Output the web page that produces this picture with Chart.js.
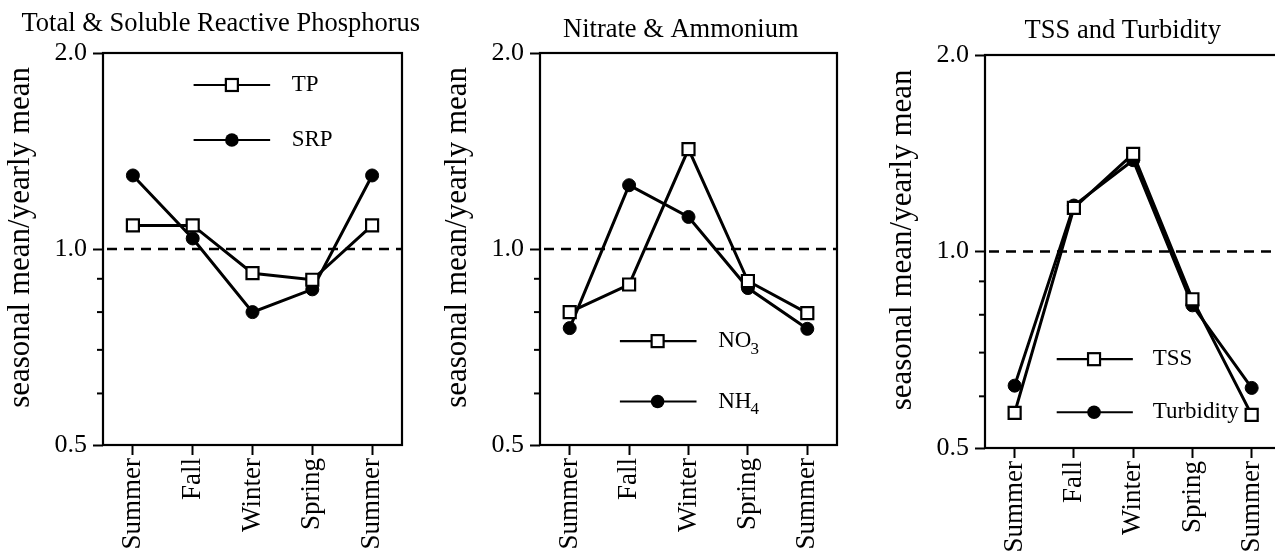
<!DOCTYPE html>
<html><head><meta charset="utf-8">
<script src="https://cdn.jsdelivr.net/npm/chart.js@4.4.1/dist/chart.umd.min.js"></script>
<style>
html,body{margin:0;padding:0;background:#fff;overflow:hidden;width:1275px;height:556px;position:relative}
canvas{position:absolute;top:0}
</style></head><body>
<canvas id="c1"></canvas><canvas id="c2"></canvas><canvas id="c3"></canvas>
<script>
// ---- data ----
const seasons = ['Summer', 'Fall', 'Winter', 'Spring', 'Summer'];
const tpValues = [1.087, 1.087, 0.918, 0.897, 1.087];
const srpValues = [1.297, 1.038, 0.800, 0.867, 1.297];
const no3Values = [0.800, 0.882, 1.424, 0.893, 0.797];
const nh4Values = [0.756, 1.253, 1.120, 0.871, 0.754];
const tssValues = [0.566, 1.166, 1.411, 0.845, 0.562];
const turbidityValues = [0.623, 1.176, 1.380, 0.827, 0.618];
const yTickValues = [0.5, 0.6, 0.7, 0.8, 0.9, 1.0, 2.0];
const yLabelValues = [0.5, 1.0, 2.0];
const referenceLevel = 1.0;
const panelTitles = ['Total & Soluble Reactive Phosphorus', 'Nitrate & Ammonium', 'TSS and Turbidity'];
const yAxisTitle = 'seasonal mean/yearly mean';

// ---- styles / layout ----
const FAMILY = '"Liberation Serif", "Times New Roman", Times, serif';
const H = 556;
const panels = [
  { id: 'c1', left: 0,   width: 430, area: { l: 103, r: 402, t: 53, b: 445 }, titleFrac: 0.394, titleBase: 31,
    series: [ { label: 'TP', sub: '', data: tpValues, style: 'rect' }, { label: 'SRP', sub: '', data: srpValues, style: 'circle' } ],
    legend: { x1: 0.303, x2: 0.559, xm: 0.431, xt: 0.631, ys: [0.0816, 0.222] } },
  { id: 'c2', left: 437, width: 445, area: { l: 540, r: 837, t: 53, b: 445 }, titleFrac: 0.474, titleBase: 37,
    series: [ { label: 'NO', sub: '3', data: no3Values, style: 'rect' }, { label: 'NH', sub: '4', data: nh4Values, style: 'circle' } ],
    legend: { x1: 0.269, x2: 0.527, xm: 0.396, xt: 0.60, ys: [0.735, 0.889] } },
  { id: 'c3', left: 882, width: 410, area: { l: 985, r: 1283, t: 55, b: 448 }, titleFrac: 0.465, titleBase: 38,
    series: [ { label: 'TSS', sub: '', data: tssValues, style: 'rect' }, { label: 'Turbidity', sub: '', data: turbidityValues, style: 'circle' } ],
    legend: { x1: 0.242, x2: 0.499, xm: 0.368, xt: 0.566, ys: [0.774, 0.909] } }
];

function pointProps(style) {
  return style === 'rect'
    ? { pointStyle: 'rect', pointRadius: 8.5, pointBackgroundColor: '#fff', pointBorderColor: '#000', pointBorderWidth: 2.2 }
    : { pointStyle: 'circle', pointRadius: 6.5, pointBackgroundColor: '#000', pointBorderColor: '#000', pointBorderWidth: 1 };
}

function drawMarker(ctx, style, x, y) {
  ctx.save();
  ctx.lineWidth = 2.2; ctx.strokeStyle = '#000';
  if (style === 'rect') {
    ctx.fillStyle = '#fff';
    ctx.fillRect(x - 6, y - 6, 12, 12);
    ctx.strokeRect(x - 6, y - 6, 12, 12);
  } else {
    ctx.fillStyle = '#000';
    ctx.beginPath(); ctx.arc(x, y, 6.8, 0, Math.PI * 2); ctx.fill();
  }
  ctx.restore();
}

function panelPlugin(p) {
  return {
    id: 'panelDecor' + p.id,
    beforeDatasetsDraw(chart) {
      const { ctx, chartArea: a, scales } = chart;
      const y1 = scales.y.getPixelForValue(referenceLevel);
      ctx.save();
      ctx.strokeStyle = '#000'; ctx.lineWidth = 2.5;
      ctx.setLineDash([10, 7]);
      ctx.beginPath(); ctx.moveTo(a.left + 4, y1); ctx.lineTo(a.right, y1); ctx.stroke();
      ctx.setLineDash([]);
      // frame
      ctx.lineWidth = 2.2;
      ctx.strokeRect(a.left, a.top, a.right - a.left, a.bottom - a.top);
      // minor ticks
      ctx.lineWidth = 2;
      yTickValues.filter(v => !yLabelValues.includes(v)).forEach(v => {
        const yy = scales.y.getPixelForValue(v);
        ctx.beginPath(); ctx.moveTo(a.left - 6, yy); ctx.lineTo(a.left, yy); ctx.stroke();
      });
      ctx.restore();
    },
    afterDraw(chart) {
      const { ctx, chartArea: a } = chart;
      const w = a.right - a.left, h = a.bottom - a.top;
      ctx.save();
      // title
      ctx.fillStyle = '#000';
      ctx.font = '26.5px ' + FAMILY;
      ctx.textAlign = 'center'; ctx.textBaseline = 'alphabetic';
      ctx.fillText(panelTitles[panels.indexOf(p)], a.left + p.titleFrac * w, p.titleBase);
      // legend
      const L = p.legend;
      p.series.forEach((s, i) => {
        const y = a.top + L.ys[i] * h;
        ctx.strokeStyle = '#000'; ctx.lineWidth = 2.2;
        ctx.beginPath(); ctx.moveTo(a.left + L.x1 * w, y); ctx.lineTo(a.left + L.x2 * w, y); ctx.stroke();
        drawMarker(ctx, s.style, a.left + L.xm * w, y);
        ctx.fillStyle = '#000';
        ctx.textAlign = 'left'; ctx.textBaseline = 'middle';
        ctx.font = '23px ' + FAMILY;
        const tx = a.left + L.xt * w;
        ctx.fillText(s.label, tx, y);
        if (s.sub) {
          const mw = ctx.measureText(s.label).width;
          ctx.font = '17px ' + FAMILY;
          ctx.fillText(s.sub, tx + mw - 1, y + 8);
        }
      });
      ctx.restore();
    }
  };
}

panels.forEach(p => {
  const cv = document.getElementById(p.id);
  cv.width = p.width; cv.height = H;
  cv.style.left = p.left + 'px';
  const yAxisWidth = p.area.l - p.left;
  const xAxisHeight = H - p.area.b;
  const padRight = p.left + p.width - p.area.r;
  new Chart(cv, {
    type: 'line',
    data: {
      labels: seasons,
      datasets: p.series.map(s => Object.assign({
        label: s.label + s.sub,
        data: s.data,
        borderColor: '#000',
        borderWidth: 3,
        tension: 0,
        fill: false
      }, pointProps(s.style)))
    },
    options: {
      responsive: false,
      animation: false,
      devicePixelRatio: 1,
      events: [],
      layout: { padding: { left: 0, right: padRight, top: p.area.t, bottom: 0 } },
      plugins: { legend: { display: false }, title: { display: false }, tooltip: { enabled: false } },
      scales: {
        x: {
          type: 'category',
          offset: true,
          afterFit: s => { s.height = xAxisHeight; },
          ticks: { minRotation: 90, maxRotation: 90, autoSkip: false, color: '#000', padding: 3,
                   font: { family: FAMILY, size: 27 } },
          grid: { drawOnChartArea: false, drawTicks: true, tickLength: 10, tickWidth: 2, tickColor: '#000', offset: false },
          border: { display: false }
        },
        y: {
          type: 'logarithmic',
          min: 0.5, max: 2.0,
          afterBuildTicks: s => { s.ticks = yTickValues.map(v => ({ value: v })); },
          afterFit: s => { s.width = yAxisWidth; },
          ticks: { autoSkip: false, color: '#000', padding: 6,
                   font: { family: FAMILY, size: 26 },
                   callback: v => yLabelValues.includes(v) ? v.toFixed(1) : '' },
          grid: { drawOnChartArea: false, drawTicks: true, tickLength: 10, tickWidth: 2,
                  tickColor: c => (c.tick && yLabelValues.includes(c.tick.value)) ? '#000' : 'rgba(0,0,0,0)' },
          border: { display: false },
          title: { display: true, text: '\u00a0\u00a0\u00a0' + yAxisTitle, color: '#000', font: { family: FAMILY, size: 31 },
                   padding: { top: 2, bottom: 2 } }
        }
      }
    },
    plugins: [panelPlugin(p)]
  });
});
</script>
</body></html>
